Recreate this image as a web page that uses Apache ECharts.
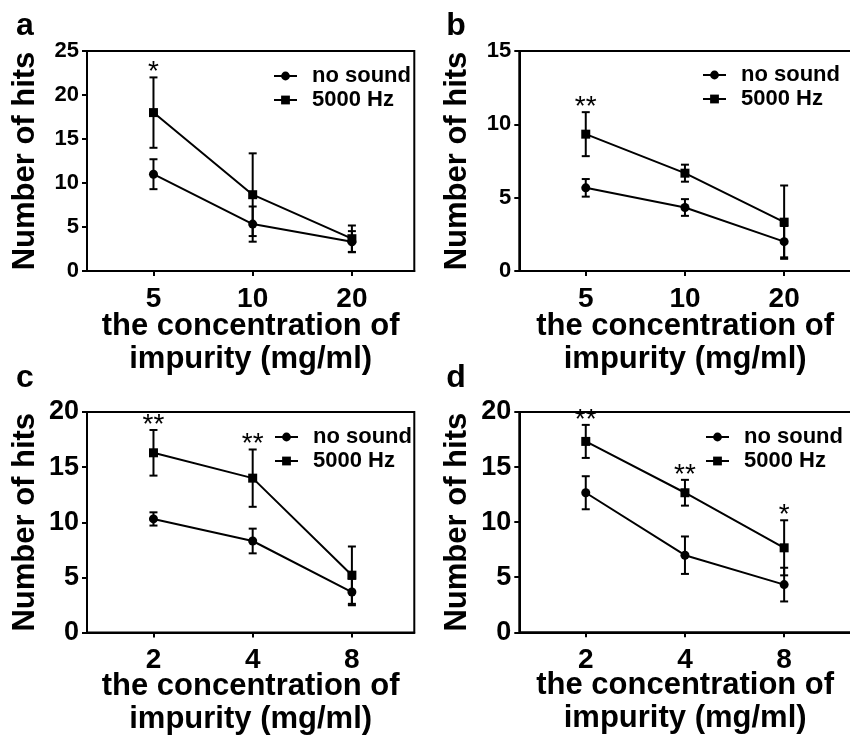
<!DOCTYPE html>
<html><head><meta charset="utf-8">
<script src="https://cdn.jsdelivr.net/npm/echarts@6/dist/echarts.min.js"></script>
<style>html,body{margin:0;padding:0;background:#fff}#c{width:850px;height:738px}</style>
</head><body><div id="c"></div>
<script>
const FONT = '"Liberation Sans", Arial, sans-serif';
const panelLetters = ['a', 'b', 'c', 'd'];
const seriesNames = ['no sound', '5000 Hz'];
const xLabelsAB = ['5', '10', '20'];
const xLabelsCD = ['2', '4', '8'];
const yMaxes = [25, 15, 20, 20];

// panel a
const aNoSound = [11.0, 5.33, 3.33];
const aNoSoundErr = [1.7, 2.0, 1.2];
const a5000 = [18.0, 8.67, 3.67];
const a5000Err = [4.0, 4.7, 1.5];
const aStars = ['*', '', ''];
// panel b
const bNoSound = [5.67, 4.33, 2.0];
const bNoSoundErr = [0.6, 0.57, 1.07];
const b5000 = [9.33, 6.67, 3.33];
const b5000Err = [1.5, 0.58, 2.5];
const bStars = ['**', '', ''];
// panel c
const cNoSound = [10.3, 8.3, 3.67];
const cNoSoundErr = [0.6, 1.12, 1.2];
const c5000 = [16.3, 14.0, 5.2];
const c5000Err = [2.07, 2.6, 2.6];
const cStars = ['**', '**', ''];
// panel d
const dNoSound = [12.67, 7.0, 4.33];
const dNoSoundErr = [1.5, 1.7, 1.53];
const d5000 = [17.33, 12.67, 7.67];
const d5000Err = [1.5, 1.17, 2.5];
const dStars = ['**', '**', '*'];

const panels = [
  {xl: xLabelsAB, ns: aNoSound, nsE: aNoSoundErr, hz: a5000, hzE: a5000Err, st: aStars},
  {xl: xLabelsAB, ns: bNoSound, nsE: bNoSoundErr, hz: b5000, hzE: b5000Err, st: bStars},
  {xl: xLabelsCD, ns: cNoSound, nsE: cNoSoundErr, hz: c5000, hzE: c5000Err, st: cStars},
  {xl: xLabelsCD, ns: dNoSound, nsE: dNoSoundErr, hz: d5000, hzE: d5000Err, st: dStars}
];

// layout (pixels)
const gridRects = [
  {left: 87, top: 51, width: 327.3, height: 220},
  {left: 519.3, top: 51, width: 331.7, height: 220},
  {left: 87, top: 412, width: 327.3, height: 220.5},
  {left: 519.3, top: 412, width: 331.7, height: 220.3}
];
const xMin = -0.67;
const xMaxes = [2.629, 2.674, 2.629, 2.674];
const yTickFont = [22, 22, 27, 27];
const xNameGap = [39, 39, 37, 37];
const legendPos = [
  {left: 273, top: 65}, {left: 702, top: 64},
  {left: 274, top: 426}, {left: 705, top: 426}
];
const letterPos = [[25, 26], [456, 26], [25, 378], [456, 378]];

const grid = [], xAxis = [], yAxis = [], series = [], legend = [], graphic = [];

function errSeries(i, means, errs, stars) {
  return {
    type: 'custom', xAxisIndex: i, yAxisIndex: i, z: 2, silent: true,
    data: means.map((m, j) => [j, m, errs[j]]),
    encode: {x: 0, y: 1},
    renderItem: function (params, api) {
      const x = api.value(0), m = api.value(1), e = api.value(2);
      const t = api.coord([x, m + e]), b = api.coord([x, m - e]);
      const hw = 4;
      const st = {stroke: '#000', lineWidth: 2};
      const ch = [
        {type: 'line', shape: {x1: t[0], y1: t[1], x2: b[0], y2: b[1]}, style: st},
        {type: 'line', shape: {x1: t[0] - hw, y1: t[1], x2: t[0] + hw, y2: t[1]}, style: st},
        {type: 'line', shape: {x1: b[0] - hw, y1: b[1], x2: b[0] + hw, y2: b[1]}, style: st}
      ];
      if (stars && stars[params.dataIndex]) {
        ch.push({type: 'text', x: t[0], y: t[1] - 5, style: {
          text: stars[params.dataIndex], font: 'normal 28px ' + FONT,
          align: 'center', verticalAlign: 'middle', fill: '#000'}});
      }
      return {type: 'group', children: ch};
    }
  };
}

panels.forEach((p, i) => {
  grid.push(Object.assign({show: true, borderColor: '#000', borderWidth: 2,
    backgroundColor: 'transparent', containLabel: false, outerBoundsMode: 'none'}, gridRects[i]));
  xAxis.push({
    type: 'value', gridIndex: i, min: xMin, max: xMaxes[i],
    splitLine: {show: false},
    axisLine: {show: true, onZero: false, lineStyle: {color: '#000', width: 2}},
    axisTick: {show: true, length: 5, lineStyle: {color: '#000', width: 2}, customValues: [0, 1, 2]},
    axisLabel: {show: true, customValues: [0, 1, 2], margin: 14,
      formatter: (v) => p.xl[Math.round(v)],
      color: '#000', fontFamily: FONT, fontWeight: 'bold', fontSize: 28},
    name: 'the concentration of\nimpurity (mg/ml)',
    nameLocation: 'middle', nameGap: xNameGap[i], nameMoveOverlap: false,
    nameTextStyle: {color: '#000', fontFamily: FONT, fontWeight: 'bold', fontSize: 31, lineHeight: 33}
  });
  yAxis.push({
    type: 'value', gridIndex: i, min: 0, max: yMaxes[i], interval: 5,
    splitLine: {show: false},
    axisLine: {show: true, onZero: false, lineStyle: {color: '#000', width: 2}},
    axisTick: {show: true, length: 5, lineStyle: {color: '#000', width: 2}},
    axisLabel: {margin: 8, color: '#000', fontFamily: FONT, fontWeight: 'bold', fontSize: yTickFont[i]},
    name: 'Number of hits', nameLocation: 'middle', nameGap: 46, nameMoveOverlap: false,
    nameTextStyle: {color: '#000', fontFamily: FONT, fontWeight: 'bold', fontSize: 31}
  });
  series.push(errSeries(i, p.ns, p.nsE, null));
  series.push(errSeries(i, p.hz, p.hzE, p.st));
  series.push({
    name: seriesNames[0], type: 'line', xAxisIndex: i, yAxisIndex: i, z: 3,
    data: p.ns.map((v, j) => [j, v]), symbol: 'circle', symbolSize: 9,
    lineStyle: {color: '#000', width: 2}, itemStyle: {color: '#000'},
    emphasis: {disabled: true}, animation: false
  });
  series.push({
    name: seriesNames[1], type: 'line', xAxisIndex: i, yAxisIndex: i, z: 3,
    data: p.hz.map((v, j) => [j, v]), symbol: 'rect', symbolSize: 9,
    lineStyle: {color: '#000', width: 2}, itemStyle: {color: '#000'},
    emphasis: {disabled: true}, animation: false
  });
  legend.push({
    data: seriesNames, orient: 'vertical', left: legendPos[i].left, top: legendPos[i].top,
    padding: 0, itemGap: 2, itemWidth: 23, itemHeight: 11, selectedMode: false,
    textStyle: {color: '#000', fontFamily: FONT, fontWeight: 'bold', fontSize: 22, lineHeight: 22,
      padding: [0, 0, 0, 10]}
  });
  graphic.push({
    type: 'text', x: letterPos[i][0], y: letterPos[i][1], silent: true,
    style: {text: panelLetters[i], font: 'bold 32px ' + FONT, fill: '#000',
      align: 'center', verticalAlign: 'middle'}
  });
});

const chart = echarts.init(document.getElementById('c'), null, {renderer: 'canvas'});
chart.setOption({
  animation: false, backgroundColor: '#fff',
  grid, xAxis, yAxis, series, legend, graphic
});
</script></body></html>
